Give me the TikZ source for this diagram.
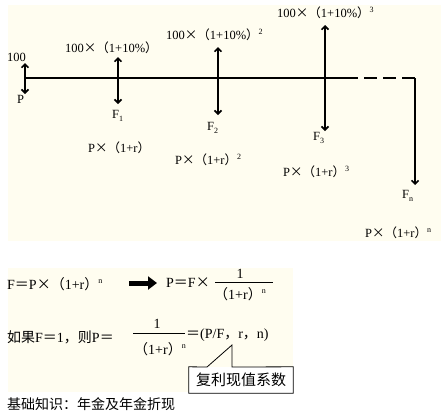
\documentclass[tikz,border=0pt]{standalone}
\usepackage{fontspec}
\setmainfont{Liberation Serif}
\newfontfamily\cjk{Noto Sans CJK SC}
\usetikzlibrary{arrows.meta}
\definecolor{cream}{RGB}{255,253,240}
\newcommand\tms{\makebox[1em]{\cjk ×}}
\newcommand\flp{{\cjk （}}
\newcommand\frp{{\cjk ）}}
\newcommand\feq{{\cjk ＝}}
\newcommand\mysup[1]{\raisebox{0.4em}{\fontsize{8}{8}\selectfont #1}}
\newcommand\mysub[1]{\raisebox{-0.3em}{\fontsize{8}{8}\selectfont #1}}
\tikzset{
  lbl/.style={inner sep=0pt, anchor=west, font=\fontsize{12.5}{12.5}\selectfont},
  blbl/.style={inner sep=0pt, anchor=west, font=\fontsize{14}{14}\selectfont},
  cnum/.style={inner sep=0pt, font=\fontsize{14}{14}\selectfont},
  ln/.style={line width=1.6pt},
  dbl/.style={ln, {Straight Barb[length=3.5pt,width=7pt]}-{Straight Barb[length=3.5pt,width=7pt]}},
  dnarrow/.style={ln, -{Straight Barb[length=3.5pt,width=7pt]}},
  fbar/.style={line width=0.9pt},
}
\begin{document}
\begin{tikzpicture}[x=1pt,y=-1pt]
\useasboundingbox (0,0) rectangle (441,416);
\fill[cream] (8,5) rectangle (441,241);
\fill[cream] (8,268) rectangle (293,392);

% timeline
\coordinate (t0) at (25,78);
\coordinate (ts) at (358,78);
\coordinate (d0) at (364,78);
\coordinate (corner) at (415,78);
\coordinate (Fnb) at (415,185);
\draw[ln] (t0) -- (ts);
\draw[ln, dash pattern=on 13pt off 6pt] (d0) -- (corner);
\draw[dnarrow] (corner) -- (Fnb);

% double arrows
\coordinate (Pt) at (25,63);  \coordinate (Pb) at (25,94);
\coordinate (F1t) at (118,57); \coordinate (F1b) at (118,104);
\coordinate (F2t) at (218,47); \coordinate (F2b) at (218,115);
\coordinate (F3t) at (325,25); \coordinate (F3b) at (325,131);
\draw[dbl] (Pt) -- (Pb);
\draw[dbl] (F1t) -- (F1b);
\draw[dbl] (F2t) -- (F2b);
\draw[dbl] (F3t) -- (F3b);

% labels
\node[lbl] (n100) at (7,57) {100};
\node[lbl] (lP) at (17,99) {P};
\node[lbl] (a1) at (65,48) {100\tms\flp 1+10\%\frp};
\node[lbl] (a2) at (166,35) {100\tms\flp 1+10\%\frp\mysup{2}};
\node[lbl] (a3) at (277,13) {100\tms\flp 1+10\%\frp\mysup{3}};
\node[lbl] (lF1) at (112,116) {F\mysub{1}};
\node[lbl] (lF2) at (207,128) {F\mysub{2}};
\node[lbl] (lF3) at (313,138) {F\mysub{3}};
\node[lbl] (lFn) at (402,196) {F\mysub{n}};
\node[lbl] (b1) at (88,148) {P\tms\flp 1+r\frp};
\node[lbl] (b2) at (175,160) {P\tms\flp 1+r\frp\mysup{2}};
\node[lbl] (b3) at (283,172) {P\tms\flp 1+r\frp\mysup{3}};
\node[lbl] (bn) at (365,233) {P\tms\flp 1+r\frp\mysup{n}};

% bottom formulas
\node[blbl] (f1) at (7,284) {F\feq P\tms\flp 1+r\frp\mysup{n}};
\coordinate (ba0) at (129,283);
\coordinate (ba1) at (157,283);
\draw[line width=5pt, -{Triangle[length=9pt,width=13pt]}] (ba0) -- (ba1);
\node[blbl] (f2) at (166,283) {P\feq F\tms};
\node[cnum] (num1) at (240,274) {1};
\coordinate (fb1a) at (215,282);
\coordinate (fb1b) at (273,282);
\draw[fbar] (fb1a) -- (fb1b);
\node[cnum] (den1) at (240,294) {\flp 1+r\frp\mysup{n}};

\node[blbl] (f3) at (7,337) {{\cjk 如果}F\feq 1{\cjk ，则}P\feq};
\node[cnum] (num2) at (157,324) {1};
\coordinate (fb2a) at (133,333);
\coordinate (fb2b) at (185,333);
\draw[fbar] (fb2a) -- (fb2b);
\node[cnum] (den2) at (160,349) {\flp 1+r\frp\mysup{n}};
\node[blbl] (f4) at (186,335) {\feq(P/F{\cjk ，}r{\cjk ，}n)};

% callout
\node[inner sep=0pt, minimum width=104pt, minimum height=26pt, fill=white,
      font=\cjk\fontsize{15}{15}\selectfont] (cb) at (241,380) {复利现值系数};
\coordinate (cp1) at (207,367);
\coordinate (cp2) at (232,345);
\coordinate (cp3) at (232,367);
\draw[line width=0.8pt, line join=miter] (cp1) -- (cb.north west) -- (cb.south west) -- (cb.south east) -- (cb.north east) -- (cp3) -- (cp2) -- (cp1);

\node[inner sep=0pt, anchor=west, font=\cjk\fontsize{14}{14}\selectfont] (title) at (7,404) {基础知识：年金及年金折现};
\end{tikzpicture}
\end{document}
